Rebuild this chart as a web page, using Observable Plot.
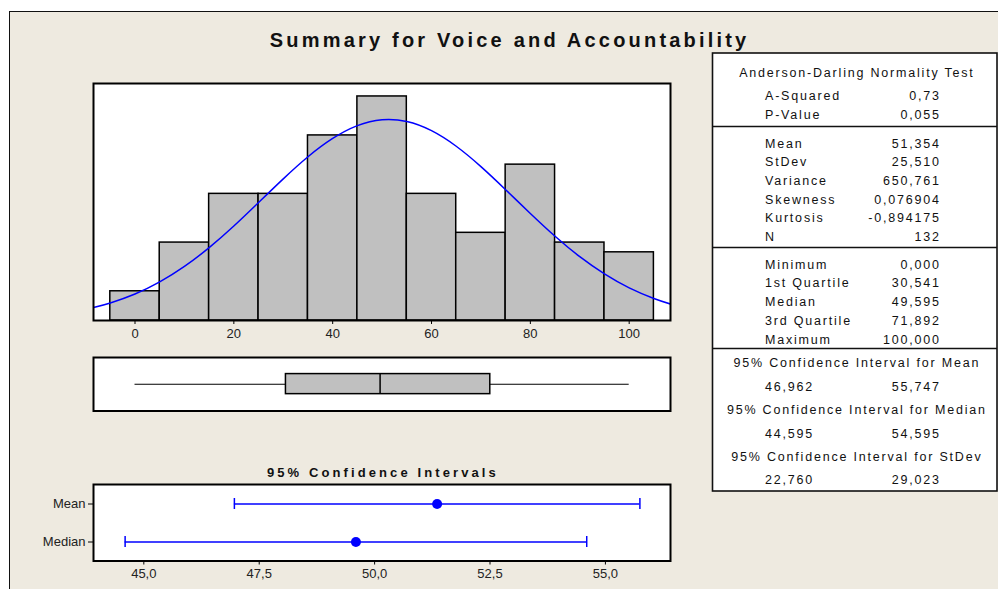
<!DOCTYPE html>
<html>
<head>
<meta charset="utf-8">
<script src="https://cdn.jsdelivr.net/npm/d3@7"></script>
<script src="https://cdn.jsdelivr.net/npm/@observablehq/plot@0.6"></script>
<style>
  html, body { margin: 0; padding: 0; background: #ffffff; }
  #wrap { position: relative; width: 998px; height: 589px; overflow: hidden; background: #ffffff; font-family: "Liberation Sans", Arial, sans-serif; }
  #panel { position: absolute; left: 9px; top: 11px; right: -5px; bottom: -5px; background: #EEEAE0; border-top: 1.5px solid #111; border-left: 1.5px solid #111; }
  .layer { position: absolute; left: 0; top: 0; }
</style>
</head>
<body>
<div id="wrap"><div id="panel"></div></div>
<script>
// ---------- data ----------
const chartTitle = "Summary for Voice and Accountability";
const binCenters = [0, 10, 20, 30, 40, 50, 60, 70, 80, 90, 100];
const binCounts  = [3, 8, 13, 13, 19, 23, 13, 9, 16, 8, 7];
const binWidth = 10;
const histTicks = [0, 20, 40, 60, 80, 100];

// fitted normal curve (counts)
const curveX = [-8.4, -5, 0, 5, 10, 15, 20, 25, 30, 35, 40, 45, 50, 55, 60, 65, 70, 75, 80, 85, 90, 95, 100, 105, 108.36];
const curveY = [1.33, 1.80, 2.72, 3.96, 5.55, 7.48, 9.70, 12.11, 14.54, 16.81, 18.69, 20.01, 20.61, 20.43, 19.49, 17.89, 15.80, 13.43, 10.99, 8.65, 6.55, 4.78, 3.35, 2.26, 1.69];

const adLabels = ["A-Squared", "P-Value"];
const adValues = ["0,73", "0,055"];
const descLabels = ["Mean", "StDev", "Variance", "Skewness", "Kurtosis", "N"];
const descValues = ["51,354", "25,510", "650,761", "0,076904", "-0,894175", "132"];
const quantLabels = ["Minimum", "1st Quartile", "Median", "3rd Quartile", "Maximum"];
const quantValues = [0.000, 30.541, 49.595, 71.892, 100.000];
const ciTitles = ["95% Confidence Interval for Mean", "95% Confidence Interval for Median", "95% Confidence Interval for StDev"];
const ciLow  = [46.962, 44.595, 22.760];
const ciHigh = [55.747, 54.595, 29.023];

const ciNames = ["Mean", "Median"];
const ciEstimates = [51.354, 49.595];
const ciTicks = [45, 47.5, 50, 52.5, 55];
const ciTitle = "95% Confidence Intervals";

// ---------- helpers ----------
const comma = (v, d) => v.toFixed(d).replace(".", ",");
const wrap = document.getElementById("wrap");
function addLayer(el) { el.classList.add("layer"); el.style.background = "transparent"; el.style.overflow = "visible"; wrap.appendChild(el); }

const FONT = '"Liberation Sans", Arial, sans-serif';
const W = 998;
const xDomainHist = [-8.4, 108.36];
const mL = 93, mR = 328;
const plotStyle = {fontFamily: FONT, fontSize: "13px", background: "transparent", color: "#222"};

// ---------- histogram ----------
const bins = binCenters.map((c, i) => ({x1: c - binWidth / 2, x2: c + binWidth / 2, count: binCounts[i]}));
const curve = curveX.map((x, i) => ({x, y: curveY[i]}));

const hist = Plot.plot({
  width: W, height: 345,
  marginTop: 83, marginBottom: 25, marginLeft: mL, marginRight: mR,
  style: plotStyle,
  x: {domain: xDomainHist},
  y: {domain: [0, 24.33], axis: null},
  marks: [
    Plot.frame({fill: "white"}),
    Plot.rectY(bins, {x1: "x1", x2: "x2", y: "count", fill: "#c0c0c0", stroke: "#000", strokeWidth: 1.5}),
    Plot.line(curve, {x: "x", y: "y", stroke: "#0000ff", strokeWidth: 1.5, curve: "natural", clip: "frame"}),
    Plot.frame({stroke: "#000", strokeWidth: 2}),
    Plot.axisX({ticks: histTicks, tickSize: 4, tickPadding: 4, fontSize: 13, label: null, stroke: "#000"})
  ]
});
addLayer(hist);

// ---------- boxplot ----------
const box = [{min: quantValues[0], q1: quantValues[1], med: quantValues[2], q3: quantValues[3], max: quantValues[4]}];
const boxPlot = Plot.plot({
  width: W, height: 430,
  marginTop: 357, marginBottom: 19.5, marginLeft: mL, marginRight: mR,
  style: plotStyle,
  x: {domain: xDomainHist, axis: null},
  y: {domain: [0, 1], axis: null},
  marks: [
    Plot.frame({fill: "white"}),
    Plot.ruleY(box, {y: () => 0.5, x1: "min", x2: "q1", stroke: "#000", strokeWidth: 1.2}),
    Plot.ruleY(box, {y: () => 0.5, x1: "q3", x2: "max", stroke: "#000", strokeWidth: 1.2}),
    Plot.rect(box, {x1: "q1", x2: "q3", y1: () => 0.315, y2: () => 0.69, fill: "#c0c0c0", stroke: "#000", strokeWidth: 1.5}),
    Plot.ruleX(box, {x: "med", y1: () => 0.315, y2: () => 0.69, stroke: "#000", strokeWidth: 1.5}),
    Plot.frame({stroke: "#000", strokeWidth: 2})
  ]
});
addLayer(boxPlot);

// ---------- confidence intervals ----------
const ciRows = ciNames.map((n, i) => ({name: n, est: ciEstimates[i], lo: ciLow[i], hi: ciHigh[i]}));
const ciPlot = Plot.plot({
  width: W, height: 589,
  marginTop: 484, marginBottom: 28.5, marginLeft: mL, marginRight: mR,
  style: plotStyle,
  x: {domain: [43.91, 56.41]},
  y: {type: "band", domain: ciNames, paddingInner: 0.71, paddingOuter: 0.355},
  marks: [
    Plot.frame({fill: "white"}),
    Plot.ruleY(ciRows, {y: "name", x1: "lo", x2: "hi", stroke: "#0000ff", strokeWidth: 1.5}),
    Plot.tickX(ciRows, {x: "lo", y: "name", stroke: "#0000ff", strokeWidth: 1.5}),
    Plot.tickX(ciRows, {x: "hi", y: "name", stroke: "#0000ff", strokeWidth: 1.5}),
    Plot.dot(ciRows, {x: "est", y: "name", r: 5, fill: "#0000ff", stroke: "none"}),
    Plot.frame({stroke: "#000", strokeWidth: 2}),
    Plot.axisX({ticks: ciTicks, tickFormat: d => comma(d, 1), tickSize: 4, tickPadding: 4, fontSize: 13, label: null, stroke: "#000"}),
    Plot.axisY({tickSize: 5, tickPadding: 3, fontSize: 13, label: null, stroke: "#000"})
  ]
});
addLayer(ciPlot);

// ---------- overlay: titles and statistics table ----------
const svg = d3.create("svg").attr("width", W).attr("height", 589)
  .style("font-family", FONT).style("pointer-events", "none");
addLayer(svg.node());

svg.append("text").attr("x", 508 + 1.6).attr("y", 47).attr("text-anchor", "middle")
  .attr("font-size", 20).attr("font-weight", "bold").attr("letter-spacing", 3.2).attr("fill", "#111")
  .text(chartTitle);

svg.append("text").attr("x", 381.4 + 1.5).attr("y", 476.7).attr("text-anchor", "middle")
  .attr("font-size", 13).attr("font-weight", "bold").attr("letter-spacing", 3.1).attr("fill", "#111")
  .text(ciTitle);

const tbl = svg.append("g");
tbl.append("rect").attr("x", 712.5).attr("y", 53).attr("width", 284.5).attr("height", 438)
  .attr("fill", "white").attr("stroke", "#111").attr("stroke-width", 1.6);
[126.5, 247.5, 348.5].forEach(y => tbl.append("line").attr("x1", 712.5).attr("x2", 997)
  .attr("y1", y).attr("y2", y).attr("stroke", "#111").attr("stroke-width", 1.6));

const FS = 12.5, LS = 1.8, CAP = 4.5;
const LX = 765, RX = 939 + LS, CX = 856 + LS / 2;
function txt(x, yc, s, anchor) {
  tbl.append("text").attr("x", x).attr("y", yc + CAP).attr("text-anchor", anchor)
    .attr("font-size", FS).attr("letter-spacing", LS).attr("fill", "#111").text(s);
}
txt(CX, 72.7, "Anderson-Darling Normality Test", "middle");
const adY = [95.5, 114.8];
adLabels.forEach((l, i) => { txt(LX, adY[i], l, "start"); txt(RX, adY[i], adValues[i], "end"); });
const descY = [143, 161.5, 180.2, 199.2, 217.7, 236.5];
descLabels.forEach((l, i) => { txt(LX, descY[i], l, "start"); txt(RX, descY[i], descValues[i], "end"); });
const quantY = [264, 282.8, 301.5, 320.3, 339];
quantLabels.forEach((l, i) => { txt(LX, quantY[i], l, "start"); txt(RX, quantY[i], comma(quantValues[i], 3), "end"); });
const ciTitleY = [362.3, 409.2, 456];
const ciValY = [386, 433, 479.8];
ciTitles.forEach((t, i) => {
  txt(CX, ciTitleY[i], t, "middle");
  txt(LX, ciValY[i], comma(ciLow[i], 3), "start");
  txt(RX, ciValY[i], comma(ciHigh[i], 3), "end");
});
</script>
</body>
</html>
